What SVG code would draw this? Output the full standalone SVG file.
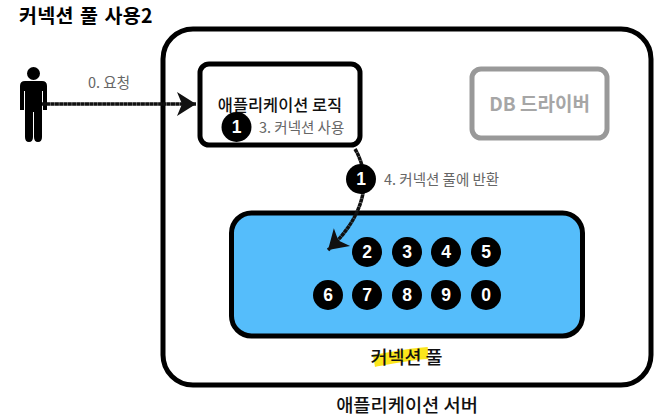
<svg xmlns="http://www.w3.org/2000/svg" width="656" height="418" viewBox="0 0 656 418">
<style>
text{font-family:"Noto Sans CJK KR","Liberation Sans",sans-serif}
.box{fill:none;stroke:#000;stroke-width:5}
.lab{font-size:14.500px;fill:#666}
.num{fill:#000}
.n{font-family:"Liberation Sans",sans-serif;font-size:17.500px;font-weight:700;fill:#fff;text-anchor:middle}
.t{font-weight:500;fill:#111;text-anchor:middle}
.conn{fill:none;stroke:#111;stroke-width:3.500;stroke-dasharray:4 0.3}
</style>
<defs><marker id="a" markerUnits="userSpaceOnUse" markerWidth="22" markerHeight="26" refX="20" refY="13" orient="auto"><path d="M1 1 L20 13 L1 25 L6 13Z" fill="#111"/></marker></defs>
<rect width="656" height="418" fill="#fff"/>
<text x="19" y="22.500" font-size="19.500" font-weight="700" fill="#000" letter-spacing="0.300" word-spacing="1.500">커넥션 풀 사용2</text>
<g id="server"><rect class="box" x="163" y="29" width="488" height="356" rx="30"/><text class="t" x="407" y="412" font-size="18.700">애플리케이션 서버</text></g>
<g id="user"><circle cx="33.500" cy="73.500" r="6.500"/><path d="M25 81H42Q47 81 47 86V110H43V91H42V137Q42 142 38 142Q34 142 34 137V112H33V137Q33 142 29 142Q25 142 25 137V91H24V110H20V86Q20 81 25 81Z"/></g>
<g id="app"><rect class="box" x="200" y="64" width="160" height="81" rx="9"/><text class="t" x="280" y="111" font-size="16.400">애플리케이션 로직</text><circle class="num" cx="236.500" cy="127" r="15"/><text class="n" x="236.500" y="133">1</text><text class="lab" x="259" y="133">3. 커넥션 사용</text></g>
<g id="db"><rect x="472" y="69" width="135" height="69" rx="9" fill="none" stroke="#999" stroke-width="5"/><text x="539.500" y="111" font-size="19" font-weight="700" fill="#a6a6a6" text-anchor="middle">DB 드라이버</text></g>
<g id="pool"><rect x="231.500" y="213" width="351" height="123" rx="20" fill="#55bdfb" stroke="#000" stroke-width="5"/>
<g><circle class="num" cx="367" cy="252" r="15"/><text class="n" x="367" y="258">2</text><circle class="num" cx="407" cy="252" r="15"/><text class="n" x="407" y="258">3</text><circle class="num" cx="446" cy="252" r="15"/><text class="n" x="446" y="258">4</text><circle class="num" cx="486" cy="252" r="15"/><text class="n" x="486" y="258">5</text>
<circle class="num" cx="328" cy="295" r="15"/><text class="n" x="328" y="301">6</text><circle class="num" cx="367" cy="295" r="15"/><text class="n" x="367" y="301">7</text><circle class="num" cx="407" cy="295" r="15"/><text class="n" x="407" y="301">8</text><circle class="num" cx="446" cy="295" r="15"/><text class="n" x="446" y="301">9</text><circle class="num" cx="486" cy="295" r="15"/><text class="n" x="486" y="301">0</text></g>
<path d="M374 361C392 358 408 354 428 353" fill="none" stroke="#fbe51c" stroke-width="12"/>
<text class="t" x="406.500" y="364" font-size="18.500">커넥션 풀</text></g>
<g id="connectors"><path class="conn" marker-end="url(#a)" d="M42 104H196"/><path class="conn" marker-end="url(#a)" d="M355 149C372 178 366 215 328 250"/></g>
<text class="lab" x="88" y="88">0. 요청</text>
<g id="return"><circle class="num" cx="361" cy="179" r="15"/><text class="n" x="361" y="185">1</text><text class="lab" x="384" y="185">4. 커넥션 풀에 반환</text></g>
</svg>
